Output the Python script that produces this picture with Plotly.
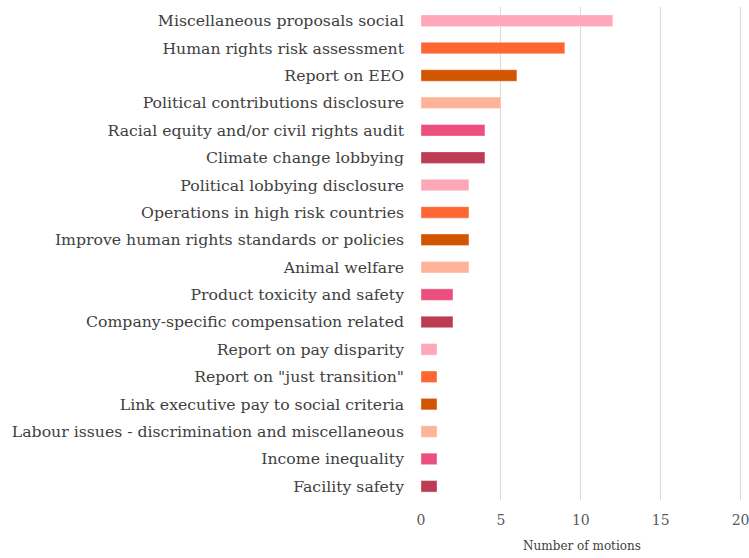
import plotly.graph_objects as go

categories = [
    "Miscellaneous proposals social",
    "Human rights risk assessment",
    "Report on EEO",
    "Political contributions disclosure",
    "Racial equity and/or civil rights audit",
    "Climate change lobbying",
    "Political lobbying disclosure",
    "Operations in high risk countries",
    "Improve human rights standards or policies",
    "Animal welfare",
    "Product toxicity and safety",
    "Company-specific compensation related",
    "Report on pay disparity",
    "Report on \"just transition\"",
    "Link executive pay to social criteria",
    "Labour issues - discrimination and miscellaneous",
    "Income inequality",
    "Facility safety",
]
values = [12, 9, 6, 5, 4, 4, 3, 3, 3, 3, 2, 2, 1, 1, 1, 1, 1, 1]
palette = ["#FFA6B8", "#FF6633", "#D45500", "#FFB399", "#EC4F7E", "#BC3C54"]
colors = [palette[i % len(palette)] for i in range(len(categories))]
x_ticks = [0, 5, 10, 15, 20]

fig = go.Figure(go.Bar(
    x=values,
    y=categories,
    orientation="h",
    width=0.42,
    marker=dict(color=colors, line=dict(color="rgba(255,255,255,0.35)", width=1)),
))

fig.update_layout(
    width=749, height=558,
    margin=dict(l=421, r=6, t=7, b=58),
    paper_bgcolor="white", plot_bgcolor="white",
    font=dict(family="DejaVu Serif", color="#404040", size=15.7),
    showlegend=False,
    xaxis=dict(
        range=[0, 20.15], tickvals=x_ticks, showgrid=True, gridcolor="#D9D9D9",
        gridwidth=1, zeroline=False, tickfont=dict(size=14, color="#595959"),
        ticklabelstandoff=10, automargin=False, ticklabeloverflow="allow",
        title=dict(text="Number of motions", font=dict(size=12, color="#404040"), standoff=14),
        ticks="", showline=False,
    ),
    yaxis=dict(
        categoryorder="array", categoryarray=categories, autorange="reversed",
        showgrid=False, ticks="", ticklabelstandoff=16, automargin=False,
        tickfont=dict(size=15.7, color="#404040"),
    ),
)

fig.write_html("out.html")
